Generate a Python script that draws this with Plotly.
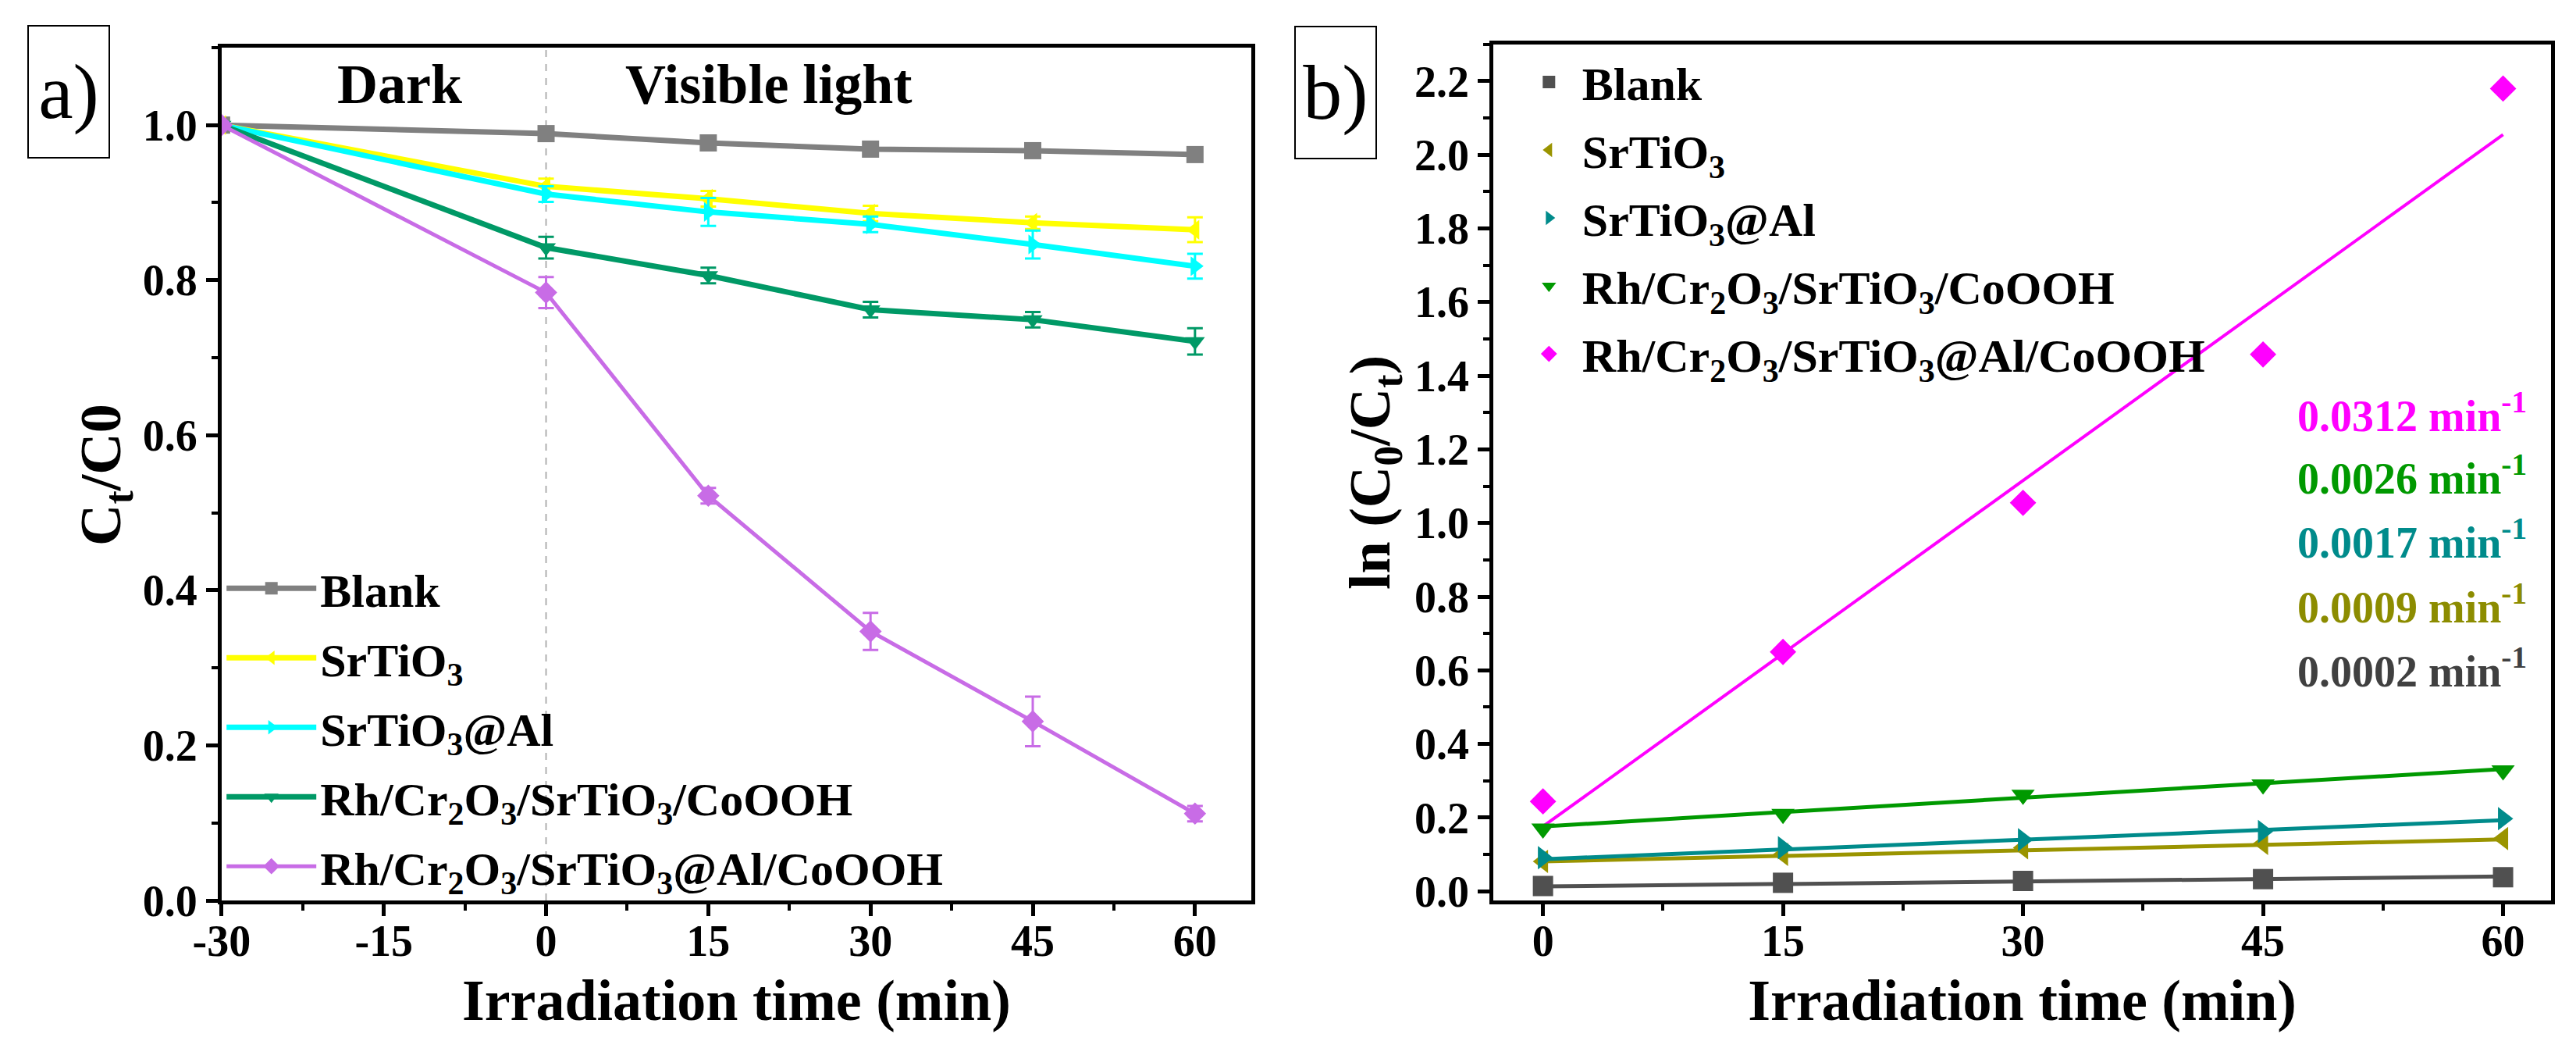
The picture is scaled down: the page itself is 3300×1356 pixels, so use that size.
import plotly.graph_objects as go

# panel a: Ct/C0 vs irradiation time
time_a = [-30, 0, 15, 30, 45, 60]
names = ["Blank", "SrTiO<sub>3</sub>", "SrTiO<sub>3</sub>@Al",
         "Rh/Cr<sub>2</sub>O<sub>3</sub>/SrTiO<sub>3</sub>/CoOOH",
         "Rh/Cr<sub>2</sub>O<sub>3</sub>/SrTiO<sub>3</sub>@Al/CoOOH"]
blank_a = [1.0, 0.989, 0.977, 0.969, 0.967, 0.962]
srtio3_a = [1.0, 0.921, 0.905, 0.886, 0.874, 0.865]
srtio3al_a = [1.0, 0.911, 0.888, 0.872, 0.846, 0.818]
rh_a = [1.0, 0.842, 0.806, 0.762, 0.749, 0.721]
rhal_a = [1.0, 0.784, 0.522, 0.347, 0.231, 0.112]
err_blank = [0.003, 0.005, 0.004, 0.004, 0.004, 0.005]
err_srtio3 = [0.004, 0.01, 0.01, 0.01, 0.008, 0.016]
err_srtio3al = [0.004, 0.01, 0.018, 0.01, 0.018, 0.016]
err_rh = [0.004, 0.014, 0.01, 0.01, 0.01, 0.017]
err_rhal = [0.004, 0.02, 0.01, 0.024, 0.032, 0.01]
ticks_a = [-30, -15, 0, 15, 30, 45, 60]
ticklabels_a = ["-30", "-15", "0", "15", "30", "45", "60"]

# panel b: ln(C0/Ct) vs time with linear fits
time_b = [0, 15, 30, 45, 60]
blank_b = [0.014, 0.023, 0.028, 0.033, 0.038]
srtio3_b = [0.081, 0.100, 0.118, 0.130, 0.143]
srtio3al_b = [0.091, 0.118, 0.140, 0.162, 0.197]
rh_b = [0.170, 0.210, 0.262, 0.290, 0.328]
rhal_b = [0.244, 0.650, 1.055, 1.458, 2.180]
fit_x = [0, 60]
fit_blank = [0.013, 0.040]
fit_srtio3 = [0.081, 0.141]
fit_srtio3al = [0.087, 0.193]
fit_rh = [0.176, 0.332]
fit_rhal = [0.176, 2.055]
rates = ["0.0312", "0.0026", "0.0017", "0.0009", "0.0002"]
rate_y = [1.30, 1.13, 0.955, 0.78, 0.605]

colors_a = ["#808080", "#FFFF00", "#00FFFF", "#009966", "#C86CE6"]
colors_b = ["#505050", "#9A9400", "#008B8B", "#009900", "#FF00FF"]
rate_colors = ["#FF00FF", "#009900", "#008B8B", "#8C8C00", "#404040"]
symbols = ["square", "triangle-left", "triangle-right", "triangle-down", "diamond"]

FONT = "Liberation Serif"

fig = go.Figure()

series_a = [blank_a, srtio3_a, srtio3al_a, rh_a, rhal_a]
errs_a = [err_blank, err_srtio3, err_srtio3al, err_rh, err_rhal]
for i in range(5):
    fig.add_trace(go.Scatter(
        x=time_a, y=series_a[i], name=names[i], mode="lines+markers",
        line=dict(color=colors_a[i], width=5 if i == 4 else 7),
        marker=dict(symbol=symbols[i], size=22, color=colors_a[i]),
        error_y=dict(type="data", array=errs_a[i], color=colors_a[i], thickness=3, width=10),
        xaxis="x", yaxis="y", legend="legend", legendgroup="a%d" % i,
    ))

series_b = [blank_b, srtio3_b, srtio3al_b, rh_b, rhal_b]
fits_b = [fit_blank, fit_srtio3, fit_srtio3al, fit_rh, fit_rhal]
for i in range(5):
    fig.add_trace(go.Scatter(
        x=fit_x, y=fits_b[i], mode="lines", showlegend=False,
        line=dict(color=colors_b[i], width=4 if i == 4 else 5),
        xaxis="x2", yaxis="y2",
    ))
for i in range(5):
    fig.add_trace(go.Scatter(
        x=time_b, y=series_b[i], name=names[i], mode="markers",
        marker=dict(symbol=symbols[i], size=26, color=colors_b[i]),
        xaxis="x2", yaxis="y2", legend="legend2", legendgroup="b%d" % i,
    ))

tickfont = dict(family=FONT, size=56, color="black", weight="bold")
titlefont = dict(family=FONT, size=74, color="black", weight="bold")
minor = dict(ticklen=8, tickwidth=4, ticks="outside", tickcolor="black")
axis_common = dict(
    showline=True, linecolor="black", linewidth=5, mirror=True,
    ticks="outside", ticklen=15, tickwidth=5, tickcolor="black",
    showgrid=False, zeroline=False, tickfont=tickfont, automargin=False,
)

fig.update_layout(
    width=3300, height=1356,
    margin=dict(l=0, r=0, t=0, b=0, autoexpand=False),
    paper_bgcolor="white", plot_bgcolor="white",
    font=dict(family=FONT, color="black"),
    xaxis=dict(domain=[0.0836, 0.4833], range=[-30, 65.2],
               tickvals=ticks_a, ticktext=ticklabels_a, ticklabelstandoff=-16,
               minor=dict(dtick=7.5, **minor),
               title=dict(text="Irradiation time (min)", font=titlefont, standoff=20),
               **axis_common),
    yaxis=dict(domain=[0.1556, 0.961], range=[0, 1.1], tickvals=[0, 0.2, 0.4, 0.6, 0.8, 1.0],
               tickformat=".1f",
               minor=dict(dtick=0.1, **minor),
               **axis_common),
    xaxis2=dict(domain=[0.5773, 0.9879], range=[-3.1, 63], tickvals=[0, 15, 30, 45, 60],
                ticklabelstandoff=-16,
                minor=dict(dtick=7.5, **minor),
                title=dict(text="Irradiation time (min)", font=titlefont, standoff=20),
                anchor="y2", **axis_common),
    yaxis2=dict(domain=[0.1556, 0.964], range=[-0.025, 2.3],
                tickvals=[0, 0.2, 0.4, 0.6, 0.8, 1.0, 1.2, 1.4, 1.6, 1.8, 2.0, 2.2],
                tickformat=".1f",
                minor=dict(dtick=0.1, **minor),
                anchor="x2", **axis_common),
    legend=dict(x=0.084, y=0.484, xanchor="left", yanchor="top",
                bgcolor="rgba(0,0,0,0)", itemwidth=115,
                traceorder="grouped", tracegroupgap=8,
                font=dict(family=FONT, size=60, color="black", weight="bold")),
    legend2=dict(x=0.586, y=0.962, xanchor="left", yanchor="top",
                 bgcolor="rgba(0,0,0,0)", itemwidth=75,
                 traceorder="grouped", tracegroupgap=6,
                 font=dict(family=FONT, size=60, color="black", weight="bold")),
    showlegend=True,
)

# y axis titles placed by hand
fig.add_annotation(x=126 / 3300, y=1 - 600 / 1356, xref="paper", yref="paper",
                   text="C<sub>t</sub>/C0", textangle=-90, showarrow=False,
                   xanchor="center", yanchor="middle", font=titlefont)
fig.add_annotation(x=1752 / 3300, y=1 - 597 / 1356, xref="paper", yref="paper",
                   text="ln (C<sub>0</sub>/C<sub>t</sub>)", textangle=-90, showarrow=False,
                   xanchor="center", yanchor="middle", font=titlefont)

# dark / light boundary
fig.add_shape(type="line", x0=0, x1=0, y0=0, y1=1, xref="x", yref="y domain",
              line=dict(color="#B0B0B0", width=2, dash="dash"), layer="below")

fig.add_annotation(x=-13.5, y=1.053, xref="x", yref="y", text="Dark", showarrow=False,
                   font=dict(family=FONT, size=72, color="black", weight="bold"))
fig.add_annotation(x=20.6, y=1.053, xref="x", yref="y", text="Visible light", showarrow=False,
                   font=dict(family=FONT, size=72, color="black", weight="bold"))

for txt, yv, col in zip(rates, rate_y, rate_colors):
    fig.add_annotation(x=61.6, y=yv, xref="x2", yref="y2", xanchor="right",
                       text=txt + " min<sup>-1</sup>", showarrow=False,
                       font=dict(family=FONT, size=56, color=col, weight="bold"))

# panel labels
fig.add_annotation(x=80 / 3300, y=1 - 110 / 1356, xref="paper", yref="paper", text="a)",
                   xanchor="center", yanchor="middle",
                   showarrow=False, width=100, height=165, bordercolor="black", borderwidth=2,
                   font=dict(family=FONT, size=100, color="black"))
fig.add_annotation(x=1703 / 3300, y=1 - 111 / 1356, xref="paper", yref="paper", text="b)",
                   xanchor="center", yanchor="middle",
                   showarrow=False, width=100, height=165, bordercolor="black", borderwidth=2,
                   font=dict(family=FONT, size=100, color="black"))

fig.write_html("out.html")
